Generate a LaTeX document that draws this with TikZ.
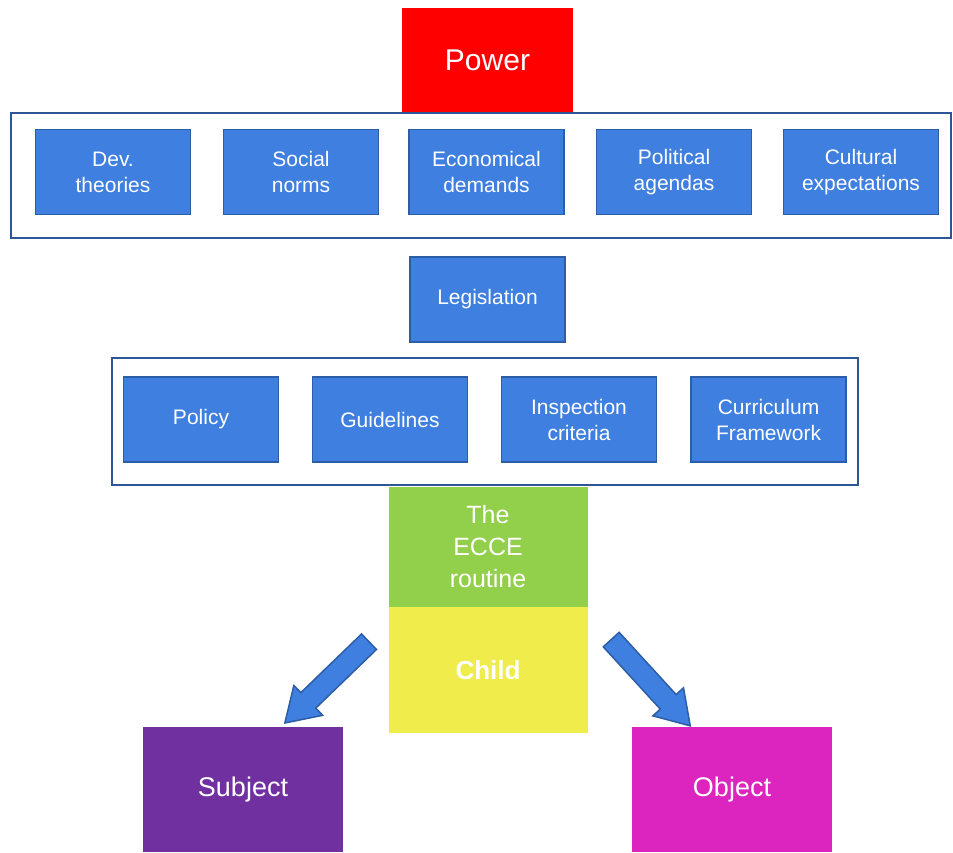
\documentclass[tikz,border=0pt]{standalone}
\usepackage{fontspec}
\setmainfont{Liberation Sans}
\usepackage{tikz}
\usetikzlibrary{shapes.arrows}
\definecolor{boxblue}{HTML}{3F7FE0}
\definecolor{boxedge}{HTML}{2D5DA6}
\definecolor{frameblue}{HTML}{2E5597}
\definecolor{powerred}{HTML}{FF0000}
\definecolor{eccegreen}{HTML}{92CF4A}
\definecolor{childyellow}{HTML}{EFEC4C}
\definecolor{subjpurple}{HTML}{7030A0}
\definecolor{objmagenta}{HTML}{DC24BE}
\tikzstyle{bluebox}=[rectangle,draw=boxedge,fill=boxblue,line width=1.5pt,
                     text=white,align=center,inner sep=0pt,
                     minimum width=155pt,minimum height=85pt,
                     font=\fontsize{21}{26}\selectfont]
\tikzstyle{colbox}=[rectangle,text=white,align=center,inner sep=0pt,
                    minimum width=199pt]
\tikzstyle{frame}=[draw=frameblue,line width=2.5pt]
\tikzstyle{blockarrow}=[single arrow,draw=boxedge,fill=boxblue,line width=1.5pt,
                        inner sep=10pt,single arrow head extend=10pt,
                        single arrow tip angle=65,minimum height=117pt]

\begin{document}
\begin{tikzpicture}[x=1pt,y=-1pt]
    \useasboundingbox (0,0) rectangle (953,852);
    % frames
    \draw[frame] (11,113) rectangle (951,238);
    \draw[frame] (112,358) rectangle (858,485);
    % top
    \node (power) at (487.5,60) [rectangle,fill=powerred,text=white,
        minimum width=171pt,minimum height=104pt,
        font=\fontsize{30}{36}\selectfont]{Power};
    \node (dev)    at (113,172)   [bluebox]{Dev.\\theories};
    \node (social) at (301,172)   [bluebox]{Social\\norms};
    \node (econ)   at (486.5,172) [bluebox]{Economical\\demands};
    \node (polit)  at (674,172)   [bluebox]{Political\\agendas};
    \node (cult)   at (861,172)   [bluebox]{Cultural\\expectations};
    \node (legis)  at (487.5,299.5) [bluebox]{Legislation};
    % regulation row
    \node (policy) at (201,419.5)   [bluebox]{Policy};
    \node (guide)  at (390,419.5)   [bluebox]{Guidelines};
    \node (insp)   at (579,419.5)   [bluebox]{Inspection\\criteria};
    \node (curr)   at (768.5,419.5) [bluebox]{Curriculum\\Framework};
    % bottom
    \node (ecce)  at (488,547) [colbox,fill=eccegreen,minimum height=120pt,
        font=\fontsize{25}{32}\selectfont]{The\\ECCE\\routine};
    \node (child) at (488,670) [colbox,fill=childyellow,minimum height=126pt,
        font=\bfseries\fontsize{26}{32}\selectfont]{Child};
    \node (subj) at (243,789.5) [colbox,fill=subjpurple,minimum width=200pt,
        minimum height=125pt,font=\fontsize{27}{32}\selectfont]{Subject};
    \node (obj)  at (732,789.5) [colbox,fill=objmagenta,minimum width=200pt,
        minimum height=125pt,font=\fontsize{27}{32}\selectfont]{Object};
    \node (larrow) at (333,676.5) [blockarrow,rotate=-136]{};
    \node (rarrow) at (645,676.5) [blockarrow,rotate=-47.5]{};
\end{tikzpicture}
\end{document}
